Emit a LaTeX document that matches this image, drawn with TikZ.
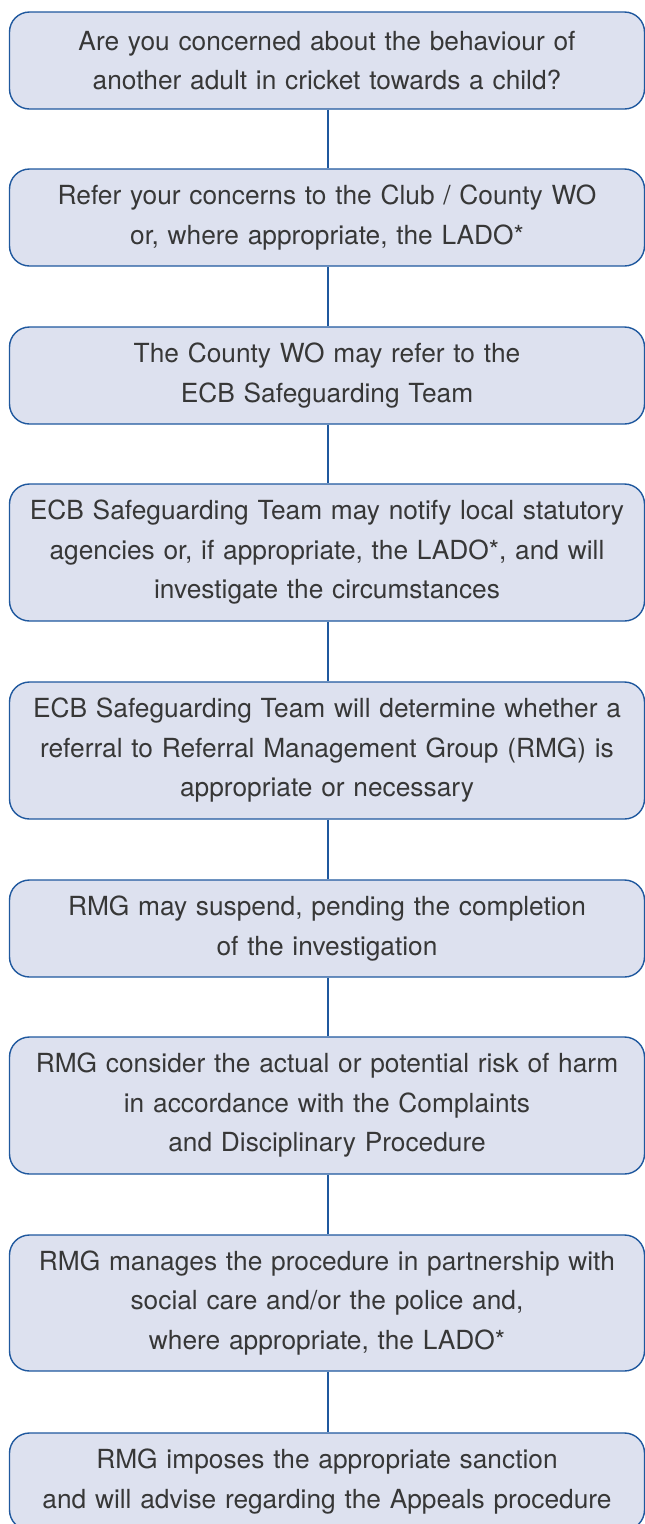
\documentclass[tikz,border=0pt]{standalone}
\usepackage{fontspec}
\setmainfont{TeX Gyre Heros}
\definecolor{boxfill}{RGB}{221,225,239}
\definecolor{boxline}{RGB}{31,88,158}
\definecolor{txt}{RGB}{55,55,55}
\begin{document}
\begin{tikzpicture}[x=1pt,y=-1pt,
  flowbox/.style={draw=boxline, fill=boxfill, line width=1.4pt, rounded corners=20pt,
    minimum width=635pt, inner sep=0pt, align=center, text width=635pt, text=txt,
    font=\fontsize{26.3}{39.5}\selectfont},
  link/.style={draw=boxline, line width=1.3pt}]
\useasboundingbox (0,0) rectangle (645,1524);
\node[flowbox, minimum height=97pt] (b1) at (327,60.5) {Are you concerned about the behaviour of\\another adult in cricket towards a child?};
\node[flowbox, minimum height=97pt] (b2) at (327,217.5) {Refer your concerns to the Club / County WO\\or, where appropriate, the LADO*};
\node[flowbox, minimum height=97pt] (b3) at (327,375.5) {The County WO may refer to the\\ECB Safeguarding Team};
\node[flowbox, minimum height=137pt] (b4) at (327,552.5) {ECB Safeguarding Team may notify local statutory\\agencies or, if appropriate, the LADO*, and will\\investigate the circumstances};
\node[flowbox, minimum height=137pt] (b5) at (327,750.5) {ECB Safeguarding Team will determine whether a\\referral to Referral Management Group (RMG) is\\appropriate or necessary};
\node[flowbox, minimum height=97pt] (b6) at (327,928.5) {RMG may suspend, pending the completion\\of the investigation};
\node[flowbox, minimum height=137pt] (b7) at (327,1105.5) {RMG consider the actual or potential risk of harm\\in accordance with the Complaints\\and Disciplinary Procedure};
\node[flowbox, minimum height=136pt] (b8) at (327,1303) {RMG manages the procedure in partnership with\\social care and/or the police and,\\where appropriate, the LADO*};
\node[flowbox, minimum height=97pt] (b9) at (327,1481.5) {RMG imposes the appropriate sanction\\and will advise regarding the Appeals procedure};
\foreach \a/\b in {b1/b2,b2/b3,b3/b4,b4/b5,b5/b6,b6/b7,b7/b8,b8/b9}
  \draw[link] ([xshift=1pt]\a.south) -- ([xshift=1pt]\b.north);
\end{tikzpicture}
\end{document}
